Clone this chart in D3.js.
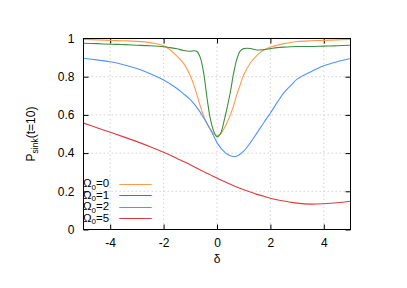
<!DOCTYPE html>
<html><head><meta charset="utf-8">
<script src="https://cdn.jsdelivr.net/npm/d3@7"></script>
<style>
html,body{margin:0;padding:0;background:#fff;}
svg{display:block;font-family:"Liberation Sans",Arial,Helvetica,sans-serif;}
</style></head>
<body>
<svg id="chart" width="407" height="288"></svg>
<script>
const deltas = [-5,-4.5,-4,-3.5,-3,-2.5,-2,-1.75,-1.5,-1.25,-1,-0.875,-0.75,-0.625,-0.5,-0.375,-0.25,-0.125,0,0.125,0.25,0.375,0.5,0.625,0.75,0.875,1,1.25,1.5,1.75,2,2.25,2.5,2.75,3,3.5,4,4.5,5];
const omega0 = [0.995,0.993,0.99,0.988,0.985,0.978,0.962,0.94,0.908,0.87,0.805,0.76,0.705,0.645,0.595,0.555,0.525,0.503,0.492,0.5,0.525,0.56,0.6,0.65,0.71,0.76,0.81,0.872,0.912,0.94,0.955,0.965,0.973,0.979,0.984,0.988,0.99,0.993,0.995];
const omega1 = [0.975,0.973,0.97,0.968,0.965,0.962,0.957,0.952,0.946,0.937,0.933,0.936,0.932,0.9,0.82,0.69,0.58,0.515,0.485,0.5,0.56,0.635,0.72,0.82,0.895,0.935,0.947,0.948,0.94,0.942,0.947,0.952,0.955,0.957,0.958,0.958,0.96,0.962,0.965];
const omega2 = [0.897,0.888,0.878,0.863,0.843,0.816,0.783,0.762,0.738,0.71,0.68,0.66,0.638,0.613,0.585,0.555,0.524,0.49,0.455,0.43,0.41,0.395,0.386,0.382,0.385,0.395,0.41,0.454,0.506,0.559,0.61,0.664,0.715,0.752,0.787,0.825,0.857,0.878,0.895];
const omega5 = [0.557,0.533,0.509,0.485,0.46,0.433,0.404,0.389,0.372,0.356,0.339,0.33,0.321,0.312,0.303,0.294,0.286,0.277,0.269,0.261,0.253,0.245,0.237,0.229,0.222,0.215,0.208,0.196,0.184,0.174,0.164,0.156,0.149,0.143,0.138,0.133,0.135,0.14,0.148];
const seriesNames = ["0","1","2","5"];
const seriesColors = ["#ff9a4a","#3c8f3c","#4d94ff","#dd3c3c"];
const xTicks = [-4,-2,0,2,4];
const yTicks = [0,0.2,0.4,0.6,0.8,1];
const yTickLabels = ["0","0.2","0.4","0.6","0.8","1"];

const svg = d3.select("#chart");
const L = 83.5, R = 350.5, T = 38.5, B = 229.5;
const x = d3.scaleLinear().domain([-5,5]).range([L,R]);
const y = d3.scaleLinear().domain([0,1]).range([B,T]);

// grid
const grid = svg.append("g");
xTicks.forEach(v=>{
  grid.append("line").attr("x1",x(v)).attr("x2",x(v)).attr("y1",T).attr("y2",B)
    .attr("stroke","#c8c8c8").attr("stroke-width",0.8).attr("stroke-dasharray","1.5,2.5");
});
yTicks.forEach(v=>{
  if(v===0||v===1) return;
  grid.append("line").attr("x1",L).attr("x2",R).attr("y1",y(v)).attr("y2",y(v))
    .attr("stroke","#c8c8c8").attr("stroke-width",0.8).attr("stroke-dasharray","1.5,2.5");
});

// axes with inward ticks
const axB = d3.axisBottom(x).tickValues(xTicks).tickSize(-5).tickPadding(9).tickFormat(d=>d3.format("d")(d).replace("−","-"));
const axT = d3.axisTop(x).tickValues(xTicks).tickSize(-5).tickFormat("");
const axL = d3.axisLeft(y).tickValues(yTicks).tickSize(-5).tickPadding(9).tickFormat((d,i)=>yTickLabels[i]);
const axR = d3.axisRight(y).tickValues(yTicks).tickSize(-5).tickFormat("");
function style(g){
  g.select(".domain").remove();
  g.selectAll("line").attr("stroke","#000").attr("stroke-width",1);
  g.selectAll("text").attr("font-size",12).attr("fill","#000").attr("font-family","Liberation Sans, Arial, sans-serif");
}
svg.append("g").attr("transform",`translate(0,${B})`).call(axB).call(style);
svg.append("g").attr("transform",`translate(0,${T})`).call(axT).call(style);
svg.append("g").attr("transform",`translate(${L},0)`).call(axL).call(style);
svg.append("g").attr("transform",`translate(${R},0)`).call(axR).call(style);

// series
const allSeries = [omega0, omega1, omega2, omega5];
const line = d3.line().x((d,i)=>x(deltas[i])).y(d=>y(d)).curve(d3.curveCatmullRom.alpha(0.5));
svg.append("clipPath").attr("id","clip").append("rect").attr("x",L).attr("y",T-2).attr("width",R-L).attr("height",B-T+2);
allSeries.forEach((s,k)=>{
  svg.append("path").datum(s).attr("d",line).attr("fill","none")
    .attr("stroke",seriesColors[k]).attr("stroke-width",1.1).attr("clip-path","url(#clip)");
});

// frame
svg.append("rect").attr("x",L).attr("y",T).attr("width",R-L).attr("height",B-T)
  .attr("fill","none").attr("stroke","#000").attr("stroke-width",1);

// legend
const legY = [187,198.5,210,221.5];
seriesNames.forEach((n,k)=>{
  const t = svg.append("text").attr("x",83).attr("y",legY[k]).attr("font-size",11.5).attr("fill","#000");
  t.append("tspan").text("Ω");
  t.append("tspan").attr("dy",2.5).attr("font-size",8).text("0");
  t.append("tspan").attr("dy",-2.5).text("="+n);
  const ly = Math.round(legY[k]-3.5)+0.5;
  svg.append("line").attr("x1",119.3).attr("x2",151.7).attr("y1",ly).attr("y2",ly)
    .attr("stroke",seriesColors[k]).attr("stroke-width",1.1);
});

// axis labels
svg.append("text").attr("x",217).attr("y",263).attr("text-anchor","middle").attr("font-size",12).text("δ");
const yl = svg.append("text").attr("transform","translate(35,134) rotate(-90)").attr("text-anchor","middle").attr("font-size",12);
yl.append("tspan").text("P");
yl.append("tspan").attr("dy",3).attr("font-size",8.5).text("sink");
yl.append("tspan").attr("dy",-3).text("(t=10)");
</script>
</body></html>
